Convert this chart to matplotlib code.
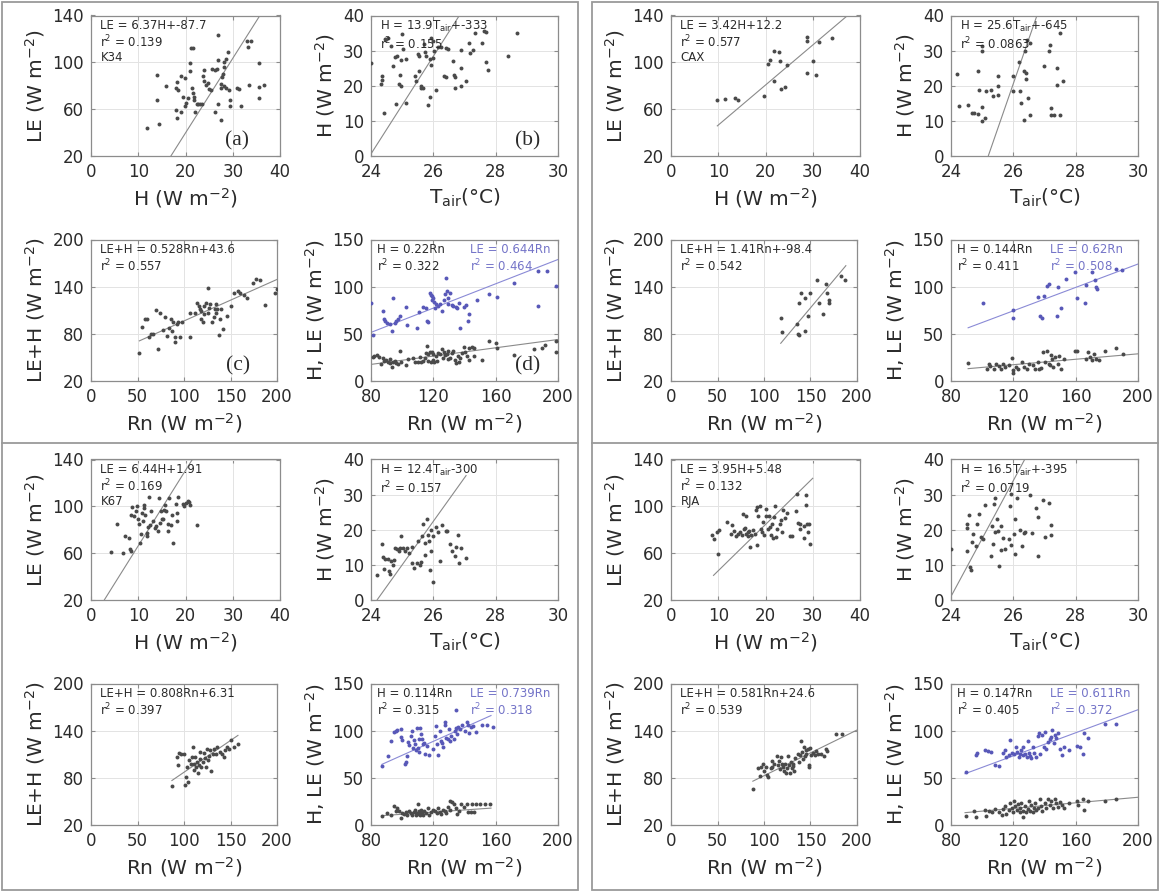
import matplotlib
matplotlib.use("Agg")
import matplotlib.pyplot as plt
from matplotlib.patches import Rectangle
import numpy as np

# ---- data: (x, y) pairs per panel ----
# K34 (top left)
k34_a = np.array([(11.8,44.1),(14.3,47.2),(13.9,67.7),(13.9,88.9),(15.9,79.6),(18.2,83.3),(17.9,78.4),
    (18.5,76.7),(19.1,88.1),(19.8,86.7),(17.9,59.1),(18.2,52.6),(19.1,57.7),(19.8,62.6),(20.2,65.4),
    (19.5,70.5),(20.6,69.6),(21.0,92.3),(21.0,99.7),(21.1,112.2),(21.6,112.2),(21.4,78.4),(21.6,73.9),
    (21.8,70.5),(21.9,67.7),(22.1,57.2),(22.4,64.0),(22.7,64.3),(23.1,64.0),(23.5,64.0),(23.7,88.1),
    (24.0,93.2),(24.0,83.8),(24.4,80.4),(24.8,82.4),(25.0,77.6),(25.4,76.2),(25.6,94.0),(26.2,93.8),
    (26.7,94.0),(26.3,57.2),(26.9,123.5),(26.9,102.3),(26.9,64.8),(27.5,50.6),(27.5,81.8),(27.5,78.4),
    (27.7,87.5),(28.0,90.4),(28.2,96.0),(28.2,100.3),(28.2,79.6),(28.5,78.2),(28.6,103.1),(29.0,108.8),
    (29.2,76.2),(29.4,67.7),(29.5,62.6),(30.9,78.2),(31.3,77.6),(31.7,62.6),(33.1,117.9),(33.2,113.0),
    (33.8,117.9),(33.4,80.4),(35.5,99.4),(35.6,79.0),(35.6,69.9),(36.6,80.4)])
k34_b = np.array([(24.0,26.5),(24.36,22.7),(24.36,21.7),(24.32,20.4),(24.41,12.3),(24.44,33.4),(24.54,33.5),
    (24.63,31.3),(24.71,25.5),(24.77,28.1),(24.84,28.6),(24.8,14.7),(24.89,20.4),(24.92,23.1),(24.95,20.0),
    (24.95,27.2),(25.0,34.7),(25.04,30.4),(25.11,27.7),(25.11,15.1),(25.41,22.7),(25.45,21.4),(25.51,28.9),
    (25.54,28.4),(25.6,19.3),(25.62,19.8),(25.66,19.3),(25.54,24.3),(25.71,32.0),(25.73,29.6),(25.76,28.4),
    (25.82,14.5),(25.89,16.9),(25.9,27.5),(25.92,26.0),(25.92,33.7),(25.98,32.8),(26.0,28.0),(26.09,18.8),
    (26.03,29.9),(26.14,31.0),(26.25,31.0),(26.33,22.7),(26.41,22.4),(26.41,30.8),(26.46,30.4),(26.62,27.0),
    (26.65,23.1),(26.68,22.4),(26.7,19.3),(26.9,30.1),(26.9,25.1),(26.9,19.8),(27.06,21.4),(27.14,32.3),
    (27.17,29.4),(27.27,30.1),(27.35,34.9),(27.56,32.3),(27.62,35.7),(27.68,35.4),(27.68,26.8),(27.75,24.6),
    (28.39,28.4),(28.7,35.0)])
k34_c = np.array([(52,55.6),(55.2,89.1),(58,98.7),(60,98.7),(62,76.5),(64,79.9),(67.2,79.9),(70,110),
    (72,61),(74,107),(77.2,85.3),(79.2,100.8),(81.2,77.8),(84,87),(86,98.7),(86.8,84),(88,94.5),(90,75.7),
    (90,70.2),(92,92.4),(93.2,94.5),(96,75.7),(98,94.5),(106,107.1),(106.8,75.7),(112,106.2),(114,119.6),
    (116,115.4),(116.8,112.1),(118,109.2),(118,98.7),(120,94.5),(121.2,105),(122,115.4),(124,119.6),
    (126,138.5),(126,107.1),(126.8,113.3),(128,117.5),(130,94.5),(132,100.8),(132.8,111.3),(134,117.5),
    (134.8,107.1),(136,111.3),(138,79),(138.8,98.7),(140,111.3),(142,86.1),(146,102.9),(150,115.4),
    (154,132.2),(158,134.3),(160,132.2),(164,128.8),(168,125.9),(174,144.7),(177.2,150.2),(182,148.9),
    (186.8,116.3),(198,132.2),(200,137.6)])
k34_d_H = np.array([(81.1,25.9),(82.2,27),(83.9,27.7),(85.4,25.9),(86.5,17.7),(87.6,24.1),(88.6,21.3),
    (89.7,22.3),(90.8,20.6),(91.9,23),(92.5,18.8),(93.4,15.2),(94.1,19.9),(95.1,21.3),(96.2,18.8),
    (97.3,17.7),(98.4,31.9),(99.5,19.9),(102.7,17),(103.8,23.4),(107,24.8),(108.1,20.6),(110.3,20.6),
    (111.4,25.9),(112.4,19.9),(113.5,21.3),(114.6,24.8),(115.2,29.4),(115.7,37.2),(116.3,21.3),(116.8,28.4),
    (117.8,30.5),(118.5,20.6),(118.9,30.5),(119.6,22.3),(120,28.4),(120.6,19.9),(121.5,27),(122.2,21.3),
    (123.2,29.4),(124.3,28.4),(125.4,34),(126.1,24.8),(127.1,30.5),(127.6,27.7),(128.6,28.4),(129.3,23.4),
    (129.7,31.9),(130.8,24.8),(131.9,29.4),(132.9,31.9),(134.1,22.3),(134.5,18.8),(135.8,27),(136.2,19.9),
    (137.3,24.8),(138.4,29.4),(139.5,36.5),(140.5,31.2),(141.6,27),(142.7,35.5),(143.1,22.3),(144.9,36.5),
    (146,27),(146,34.8),(151.4,22.3),(155.7,42.6),(160,40.1),(161.1,35.5),(171.7,27.2),(184.8,34.2),
    (189.5,34.9),(191.9,37.7),(199,30.7),(199,42.2)])
k34_d_LE = np.array([(80,82.6),(81.1,48.9),(87.6,74.5),(88.2,66),(89.1,63.1),(90.4,61.3),(91.9,60.3),
    (93.4,53.2),(94.1,87.9),(95.1,61.3),(96.2,63.8),(97.3,66),(98.4,68.4),(102.7,78),(103.4,59.6),
    (109.2,56),(110.7,72.7),(113.5,78),(115,77.3),(115.7,63.8),(116.8,62.4),(117.8,93.3),(118.5,91.5),
    (118.9,89.7),(119.4,86.2),(120,87.9),(120.6,83.7),(121.5,81.6),(121.1,77.3),(122.8,79.1),(124.3,81.6),
    (125.4,73.8),(127.1,86.2),(127.6,92.2),(128.1,109.2),(128.6,95),(129.3,87.9),(129.7,81.6),(130.8,93.3),
    (131.9,80.1),(132.9,79.1),(134.5,78),(135.1,77.3),(136.2,82.6),(137.3,56),(139.5,78),(141,80.1),
    (142.5,63.8),(143.1,70.9),(148.1,86.2),(155.7,92.2),(161.1,88.7),(171.7,103.9),(187,116.1),
    (193,116.1),(187.1,79.5),(199,101.1)])

# CAX (top right)
cax_a = np.array([(9.8,68.2),(11.5,69.1),(13.5,69.6),(14.1,67.7),(19.6,71.6),(20.5,98.6),(21,102.3),
    (21.8,109.9),(21.9,83.8),(22.9,108.8),(23.1,101.4),(23.2,77.6),(24.2,78.7),(24.6,98),(28.8,121.3),
    (28.8,117.9),(28.8,90.9),(30,101.4),(30.6,88.9),(31.3,117.3),(34,120.7)])
cax_b = np.array([(24.2,23.4),(24.26,14.2),(24.56,14.5),(24.68,12.3),(24.74,12.3),(24.86,12),(24.86,24.1),
    (24.9,18.9),(25.0,31.2),(25.0,29.8),(25.0,13.9),(25.0,10.1),(25.1,10.9),(25.12,18.4),(25.28,18.9),
    (25.34,17),(25.5,20),(25.52,22.7),(25.52,17.5),(26.0,18.4),(26.0,22.7),(26.17,26.7),(26.2,18.4),
    (26.23,15.1),(26.35,24.1),(26.35,10.2),(26.38,29.8),(26.4,23.6),(26.4,22),(26.45,33.1),(26.46,16.5),
    (26.55,32.2),(26.53,11.8),(26.98,25.5),(27.16,29.8),(27.19,31.7),(27.2,13.7),(27.2,11.8),(27.3,11.8),
    (27.4,25.1),(27.5,35),(27.6,21.3),(27.5,11.8),(27.4,20.3)])
cax_c = np.array([(117.9,100.2),(119,82.3),(136,91.9),(136.9,79.4),(137.7,78.2),(137.7,118.9),
    (139.7,131.4),(144.4,125.2),(149.6,131.4),(144.4,83.6),(147.6,102.3),(157.5,148),(159.5,118.9),
    (163.5,105.6),(166.7,143.9),(167.5,131.4),(169.4,123.1),(169.4,118.9),(183.3,154.2),(187.3,148)])
cax_d_H = np.array([(90.7,19.4),(103,13.2),(104.1,18.4),(105.3,15.9),(107.7,13.2),(108.9,18.4),(110.5,15.9),
    (112.4,13.2),(113.6,18.4),(114.8,14.9),(117.2,17.3),(119.1,24.2),(119.5,11.4),(120,9),(121.4,14.9),
    (123.1,13.2),(125.4,20.1),(126.6,14.9),(129,13.2),(130.2,18.4),(132.5,17.3),(134.2,13.2),(135.6,20.1),
    (136.6,12.5),(138,13.9),(138.9,31.2),(140.4,20.1),(141.3,32.2),(142.7,18.4),(143.7,16.6),(144.4,27.7),
    (145.1,23.6),(145.6,14.9),(146.7,25.3),(148.4,18.4),(149.1,26.3),(150.3,13.2),(152.7,23.6),(159.8,32.2),
    (161,32.2),(166.4,23.6),(168,30.5),(169.2,25.3),(170.4,22.5),(171.6,28.7),(172.8,22.9),(175.1,21.8),
    (178.7,32.2),(185.8,34.6),(190.5,28.7)])
cax_d_LE = np.array([(100.6,83.1),(119.5,74.8),(120,66.9),(136.1,88.7),(137.3,68.6),(138.5,66.9),
    (139.6,90.1),(141.3,100.5),(142.7,103.2),(147.9,68.6),(148.6,99.8),(150.3,77.2),(153.8,108.4),
    (159.8,115.3),(161,87.6),(165.7,82.4),(166.9,101.5),(170.4,115.3),(172.1,106.7),(172.8,99.8),
    (174,97),(185.8,118.8),(190,117.8)])

# K67 (bottom left)
k67_a = np.array([(4.2,61.4),(5.4,85.1),(6.8,60),(7.2,74.3),(8.1,73.1),(8.2,63.7),(8.5,62),(8.5,92.9),
    (8.7,99.1),(9,91.4),(9.5,95.7),(9.8,100),(10,89.4),(10.2,84.9),(10.4,68.6),(10.5,76.6),(10.8,94.3),
    (11,87.7),(11.2,98.6),(11.3,101.4),(11.5,92.9),(11.8,77.1),(11.9,74.3),(12.1,82),(12.3,108),(12.5,84.3),
    (12.7,95.7),(13.1,87.7),(13.5,81.4),(13.8,82.9),(14.2,79.1),(14.4,107.1),(14.6,85.7),(14.8,95.7),
    (15,89.4),(15.2,89.4),(15.4,97.1),(15.6,101.4),(15.8,95.7),(16.2,84.9),(16.4,79.1),(16.5,107.1),
    (16.9,84.3),(17.2,92.9),(17.3,68.6),(17.9,102),(18.1,87.7),(18.2,94.3),(18.5,108),(19.5,101.7),
    (19.6,100),(20,102.9),(20.5,104.9),(20.8,103.7),(21,100.9),(22.5,84.3)])
k67_b = np.array([(24.18,7),(24.36,15.9),(24.38,12.1),(24.41,8.9),(24.44,11.6),(24.53,11.6),(24.58,8.3),
    (24.62,7.3),(24.64,11),(24.7,10),(24.73,11.4),(24.77,14.8),(24.82,14.6),(24.89,14),(24.93,14.8),
    (24.97,18.1),(25.03,14.8),(25.09,14),(25.15,14.8),(25.21,13.3),(25.33,15.2),(25.33,10.5),(25.38,9.2),
    (25.48,10.5),(25.5,16.7),(25.56,10),(25.62,10.8),(25.64,18.1),(25.67,21.6),(25.72,12.9),(25.74,16.2),
    (25.8,23.1),(25.82,18.6),(25.86,16.7),(25.88,8.6),(25.92,14),(25.92,20),(25.98,18.1),(26.0,5.2),
    (26.07,20.7),(26.15,19.5),(26.21,11),(26.27,21.4),(26.4,19.6),(26.45,19.6),(26.55,15.9),(26.6,14),
    (26.7,12.4),(26.72,15.2),(26.8,18.4),(26.82,10.5),(26.9,14.8),(27.05,11.9)])
k67_c = np.array([(87.1,69.9),(92.3,106.5),(93.1,96.1),(95,111.4),(97,110.6),(100.2,109.8),(101,71.1),
    (101.8,81.5),(103,94),(104.2,75.3),(105,103.1),(107,98.1),(108.1,106.5),(109.7,119.8),(110.9,98.1),
    (110.9,89.8),(112.1,106.5),(112.9,94),(113.7,100.2),(114.9,86.5),(116,96.1),(116.8,104.4),(117.6,112.7),
    (118.8,94),(120,100.2),(121.6,111.4),(122.8,105.6),(124,94),(124.8,116.8),(125.5,102.3),(126.7,107.3),
    (127.9,114.8),(128.7,89),(130.7,109.8),(132.7,116.8),(134.7,110.6),(135.8,118.9),(138.6,112.7),
    (140.6,109.8),(142.6,106.5),(144.6,114.8),(146.5,119.8),(148.5,116.8),(150.5,128.1),(153.3,119.8),
    (158.4,123.1)])
k67_d_H = np.array([(87.1,9.1),(90.4,12.7),(92.6,10.2),(94.7,20),(95.8,15.3),(96.9,17.5),(98,14.6),
    (99,7.3),(100.1,12.7),(101.2,11.6),(102.3,13.8),(103.4,10.9),(104.5,15.3),(105.5,12.7),(106.6,10.9),
    (107.7,13.8),(108.4,16.4),(108.8,10.2),(109.2,12.7),(109.9,21.8),(110.5,11.6),(111,14.6),(111.4,10.2),
    (112,16.4),(112.6,12.7),(113.1,10.2),(114.2,15.3),(115.3,12.7),(116.4,17.5),(117.4,10.9),(118.5,13.8),
    (120,16.4),(121.3,15.3),(122.2,12.7),(122.9,17.5),(124,13.8),(125,11.6),(126.1,16.4),(127.2,15.3),
    (128.3,12.7),(129.4,18.9),(130.4,16.4),(130.9,25.5),(132.2,24.8),(133,21.8),(134.3,18.2),(135.2,11.6),
    (136.5,15.3),(138,21.8),(139.5,18.9),(141.3,21.8),(142.3,13.5),(143.9,13.5),(144.5,22.6),(146,13.5),
    (147.7,22.6),(149.9,21.8),(153.2,22.6),(156.4,22.6)])
k67_d_LE = np.array([(87.1,62.6),(92.6,89.2),(91,72.8),(94.7,99),(96.9,101.2),(99,101.9),(95.8,100.1),
    (99,92.8),(100.1,90.3),(101.9,64.8),(102.7,67.3),(103.4,72.8),(104,88.1),(104.5,84.5),(105.5,94.6),
    (106.6,100.1),(107.1,81.9),(107.7,90.3),(108.4,85.5),(108.8,79.4),(109.2,102.7),(109.9,81.9),
    (110.5,77.2),(111,91),(111.4,102.7),(112,96.5),(112.7,91),(113.1,85.5),(113.8,87.4),(114.8,75.7),
    (115.7,83.7),(117,74.6),(120,80.8),(121.3,94.6),(121.8,104.8),(122.2,85.5),(122.9,74.6),(124,100.1),
    (125,89.2),(125.7,86.6),(126.5,83),(127.2,109.2),(127.8,105.6),(128.3,91.7),(129.4,91),(130,101.9),
    (130.9,89.2),(131.5,94.6),(133,91),(133.7,100.1),(134.3,102.7),(134.8,122),(135.2,96.5),(135.8,103.7),
    (137.4,101.9),(138.7,106.3),(140.2,100.1),(141.3,109.2),(142.3,106.3),(143,97.6),(143.9,103.7),
    (145.6,104.8),(147.7,98.3),(151,106.3),(154.2,105.6),(158.1,103.7)])

# RJA (bottom right)
rja_a = np.array([(8.7,75.6),(9.2,71.9),(9.8,78.4),(10,59.1),(10.2,79.6),(11.9,87),(12.7,76.2),(12.9,84.1),
    (13.3,79),(13.8,74.8),(14.2,76.7),(14.6,78.4),(15,75.6),(15.2,93.2),(15.4,80.4),(15.6,81.3),(15.8,76.7),
    (15.9,91.8),(16.2,78.4),(16.4,74.8),(16.5,79),(16.7,65.4),(16.9,75.6),(17.3,79.6),(17.7,76.7),(17.9,96.6),
    (18.1,99.4),(18.2,67.1),(18.5,91.8),(18.8,100.3),(19,80.4),(19.2,78.4),(19.5,87),(19.6,75.6),(20,91.8),
    (20.2,97.4),(20.5,80.4),(20.8,91.8),(21,82.4),(21.2,75.6),(21.3,85.2),(21.5,73.3),(21.8,90.9),
    (22.1,100.3),(22.3,73.9),(22.5,80.4),(23.1,85.2),(23.3,88.1),(23.5,78.4),(23.8,96.6),(24.2,90.4),
    (24.6,94.6),(25.2,74.8),(25.6,74.8),(26.5,96),(26.7,110.8),(26.9,86.1),(27.2,84.7),(27.3,80.4),
    (28.1,73.3),(28.2,83.3),(28.5,101.1),(28.5,109.6),(28.7,84.7),(29,78.4),(29.2,85.2),(29.5,68.2)])
rja_b = np.array([(24,14.5),(24.5,21.6),(24.5,20.6),(24.52,14),(24.59,24.2),(24.62,9.5),(24.64,8.5),
    (24.67,16.4),(24.71,18.7),(24.79,15.4),(24.85,21.7),(24.91,24.6),(24.95,17.8),(25.03,17.3),(25.09,27),
    (25.27,12.6),(25.3,21.1),(25.35,15.9),(25.38,27.4),(25.42,28.9),(25.42,19.5),(25.47,23),(25.5,19.7),
    (25.54,9.7),(25.59,14.2),(25.62,21.1),(25.66,17.6),(25.74,14.5),(25.86,17.3),(25.89,26.8),(25.92,30.3),
    (25.94,15.7),(26.01,18.9),(26.04,23),(26.06,13.2),(26.13,28.9),(26.21,19.9),(26.27,15.4),(26.33,19.2),
    (26.39,19.5),(26.53,29.9),(26.6,19.2),(26.72,26.3),(26.8,23.5),(26.8,12.6),(26.95,28.4),(27.0,18.0),
    (27.15,27.6),(27.2,21.4),(27.2,18.6)])
rja_c = np.array([(88.1,65.7),(94,91.9),(95.2,82.3),(96.8,94.1),(99.2,97.3),(100,89),(102,94.1),(103.2,83.6),
    (104.8,81.5),(107.1,91.9),(108.7,94.1),(108.7,101.5),(111.1,98.1),(113.9,107.3),(115.1,96.1),
    (115.9,101.5),(116.7,90.7),(117.9,106.5),(119,98.1),(120.6,94.1),(121.8,89),(123,98.1),(123.8,85.7),
    (124.6,91.9),(125.8,107.3),(127,96.1),(127.8,86.5),(128.6,100.2),(129.8,91.9),(131,98.1),(131.7,94.8),
    (132.5,89),(133.7,105.6),(136.9,109.8),(137.7,100.2),(138.9,108.5),(140.1,126.4),(140.9,112.7),
    (141.7,104.4),(142.9,118.9),(144,107.3),(144.8,114.8),(145.6,110.6),(146.8,116.8),(148,96.1),(148.8,94),
    (149.6,118),(150.8,108.5),(152.8,111.4),(154.8,108.5),(156.3,113.9),(158.3,109.8),(161.1,110.6),
    (164.3,107.3),(166.3,116.8),(167.5,113.9),(177.4,135.5),(184.1,135.5)])
rja_d_H = np.array([(89.5,9.8),(95,15),(95.9,8),(102.1,16),(102.6,9.8),(104.5,15),(106.1,13.3),(108.5,16.7),
    (110.9,14),(112.6,10.5),(113.3,16.7),(114.5,20.2),(115.6,11.5),(117.3,16),(118,23),(119.2,18.5),
    (119.7,13.3),(120.4,25.5),(121.1,20.2),(122.1,16),(122.8,21.9),(124,13.3),(124.4,18.5),(125.2,23.7),
    (125.9,15),(126.3,8),(127.5,20.2),(128.2,13.3),(129.2,17.4),(129.9,25.5),(130.6,15),(131.6,20.9),
    (132.3,13.3),(133,18.5),(133.9,23.7),(134.7,16),(135.8,18.5),(137,27.9),(137.7,20.2),(138.7,15),
    (140.1,23),(141.1,18.5),(142.5,27.2),(143.5,20.9),(144.2,25.5),(145.3,18.5),(146.5,27.2),(147.7,23),
    (148.9,19.5),(150.1,24.4),(151.3,20.9),(152.5,18.5),(156,23),(160.8,25.5),(161.5,20.9),(164.8,27.2),
    (165.6,16),(168,25.5),(178.6,25.5),(185.7,27.2)])
rja_d_LE = np.array([(89.5,55.8),(95.9,74.3),(96.6,76.7),(102.1,79.5),(103.8,78.8),(105.4,77.8),
    (108.5,63.8),(110.9,62.8),(113.3,76),(114.5,79.5),(115.6,72.5),(117.3,74.3),(118,90),(119.2,76.7),
    (120.4,75.3),(121.6,83),(122.1,77.8),(123.5,72.5),(124,75.3),(125.2,79.5),(125.9,74.3),(126.3,83),
    (127.5,75.3),(128.7,71.9),(129.2,89.3),(129.9,76.7),(130.6,73.2),(131.6,70.8),(132.3,83),(133,76.7),
    (134.7,72.5),(135.8,94.2),(136.3,97.7),(137,75.3),(138.2,95.3),(139.4,83),(140.1,98.7),(141.1,80.2),
    (142.5,88.2),(143.5,90.7),(144.2,93.5),(144.9,101.2),(145.8,87.2),(146.5,95.3),(147.7,91.7),
    (148.9,97.7),(150.1,80.2),(151.3,74.3),(152.5,83),(156,79.5),(160.8,83.7),(162.5,83),(164.8,75.3),
    (165.6,97),(168,91.7),(178.6,107.4),(185.7,107.4)])

# fit coefficients (slope, intercept) and the x span each fit line covers
fits = {
    'K34': [(6.37, -87.7, 11.8, 36.6), (13.9, -333, 24.0, 28.7), (0.528, 43.6, 52, 200), (0.22, 0.644, 80, 200)],
    'CAX': [(3.42, 12.2, 9.8, 40), (25.6, -645, 24.2, 27.6), (1.41, -98.4, 118, 188), (0.144, 0.62, 91, 200)],
    'K67': [(6.44, 1.91, 2.8, 23), (12.4, -300, 24.2, 27.05), (0.808, 6.31, 87, 158), (0.114, 0.739, 87, 157)],
    'RJA': [(3.95, 5.48, 9, 30), (16.5, -395, 24.0, 28), (0.581, 24.6, 88, 200), (0.147, 0.611, 89, 200)],
}
labels = {
    'K34': [['LE = 6.37H+-87.7', 'r$^2$ = 0.139', 'K34'], ['H = 13.9T$_{\\mathrm{air}}$+-333', 'r$^2$ = 0.155'],
            ['LE+H = 0.528Rn+43.6', 'r$^2$ = 0.557'], ['H = 0.22Rn', 'r$^2$ = 0.322', 'LE = 0.644Rn', 'r$^2$ = 0.464']],
    'CAX': [['LE = 3.42H+12.2', 'r$^2$ = 0.577', 'CAX'], ['H = 25.6T$_{\\mathrm{air}}$+-645', 'r$^2$ = 0.0863'],
            ['LE+H = 1.41Rn+-98.4', 'r$^2$ = 0.542'], ['H = 0.144Rn', 'r$^2$ = 0.411', 'LE = 0.62Rn', 'r$^2$ = 0.508']],
    'K67': [['LE = 6.44H+1.91', 'r$^2$ = 0.169', 'K67'], ['H = 12.4T$_{\\mathrm{air}}$-300', 'r$^2$ = 0.157'],
            ['LE+H = 0.808Rn+6.31', 'r$^2$ = 0.397'], ['H = 0.114Rn', 'r$^2$ = 0.315', 'LE = 0.739Rn', 'r$^2$ = 0.318']],
    'RJA': [['LE = 3.95H+5.48', 'r$^2$ = 0.132', 'RJA'], ['H = 16.5T$_{\\mathrm{air}}$+-395', 'r$^2$ = 0.0719'],
            ['LE+H = 0.581Rn+24.6', 'r$^2$ = 0.539'], ['H = 0.147Rn', 'r$^2$ = 0.405', 'LE = 0.611Rn', 'r$^2$ = 0.372']],
}
sites = {'K34': (k34_a, k34_b, k34_c, k34_d_H, k34_d_LE),
         'CAX': (cax_a, cax_b, cax_c, cax_d_H, cax_d_LE),
         'K67': (k67_a, k67_b, k67_c, k67_d_H, k67_d_LE),
         'RJA': (rja_a, rja_b, rja_c, rja_d_H, rja_d_LE)}

# ---- drawing ----
W, HP = 1160, 892
GREY = '#4a4a4a'
BLUE = '#5858b8'
BLUE_TXT = '#7474c8'
LINE = '#8a8a8a'
TXT = '#2b2b2b'

fig = plt.figure(figsize=(W / 100, HP / 100), dpi=100)

bg = fig.add_axes([0, 0, 1, 1])
bg.set_xlim(0, W)
bg.set_ylim(HP, 0)
bg.axis('off')
for x0, x1 in [(2, 578), (592, 1158)]:
    bg.add_patch(Rectangle((x0, 2), x1 - x0, 888, fill=False, ec='#9a9a9a', lw=1.3))
    bg.plot([x0, x1], [443, 443], color='#9a9a9a', lw=1.3)

boxes = [(91, 15.5, 280, 156), (371, 15.5, 558, 156), (91, 239.5, 277, 381), (371, 239.5, 558, 381)]
offsets = {'K34': (0, 0), 'CAX': (580, 0), 'K67': (0, 444), 'RJA': (580, 444)}
wm = 'W m$^{-2}$'
specs = [((0, 40), (20, 140), [0, 10, 20, 30, 40], [20, 60, 100, 140], 'H (%s)' % wm, 'LE (%s)' % wm),
         ((24, 30), (0, 40), [24, 26, 28, 30], [0, 10, 20, 30, 40], 'T$_{\\mathrm{air}}$(°C)', 'H (%s)' % wm),
         ((0, 200), (20, 200), [0, 50, 100, 150, 200], [20, 80, 140, 200], 'Rn (%s)' % wm, 'LE+H (%s)' % wm),
         ((80, 200), (0, 150), [80, 120, 160, 200], [0, 50, 100, 150], 'Rn (%s)' % wm, 'H, LE (%s)' % wm)]


def make_ax(box, dx, dy, spec):
    l, t, r, b = box
    ax = fig.add_axes([(l + dx) / W, 1 - (b + dy) / HP, (r - l) / W, (b - t) / HP])
    xlim, ylim, xt, yt, xl, yl = spec
    ax.set_xlim(xlim)
    ax.set_ylim(ylim)
    ax.set_xticks(xt)
    ax.set_yticks(yt)
    ax.grid(True, color='#e3e3e3', lw=0.7)
    ax.set_axisbelow(True)
    for s in ax.spines.values():
        s.set_color('#8c8c8c')
        s.set_linewidth(0.9)
    ax.tick_params(direction='in', length=3, color='#8c8c8c', labelsize=12,
                   labelcolor=TXT, pad=5, top=True, right=True)
    ax.set_xlabel(xl, fontsize=14.5, color=TXT, labelpad=4)
    ax.set_ylabel(yl, fontsize=14.5, color=TXT, labelpad=4)
    return ax


for site, (dx, dy) in offsets.items():
    pa, pb, pc, pdh, pdl = sites[site]
    f = fits[site]
    txt = labels[site]
    axes = [make_ax(boxes[i], dx, dy, specs[i]) for i in range(4)]

    for ax, pts, (m, c, x0, x1), lines in zip(axes[:3], (pa, pb, pc), f[:3], txt[:3]):
        ax.scatter(pts[:, 0], pts[:, 1], s=8, color=GREY, lw=0, zorder=3)
        xs = np.array([x0, x1])
        ax.plot(xs, m * xs + c, color=LINE, lw=0.8, zorder=2)
        ax.text(0.05, 0.975, '\n'.join(lines), transform=ax.transAxes, ha='left', va='top',
                fontsize=8.5, color=TXT, linespacing=1.1, zorder=4)

    ax = axes[3]
    mh, ml, x0, x1 = f[3]
    xs = np.array([x0, x1])
    ax.scatter(pdh[:, 0], pdh[:, 1], s=8, color=GREY, lw=0, zorder=3)
    ax.scatter(pdl[:, 0], pdl[:, 1], s=8, color=BLUE, lw=0, zorder=3)
    ax.plot(xs, mh * xs, color=LINE, lw=0.8, zorder=2)
    ax.plot(xs, ml * xs, color='#8a8ad6', lw=0.8, zorder=2)
    ax.text(0.03, 0.975, txt[3][0] + '\n' + txt[3][1], transform=ax.transAxes, ha='left', va='top',
            fontsize=8.5, color=TXT, linespacing=1.1, zorder=4)
    ax.text(0.53, 0.975, txt[3][2] + '\n' + txt[3][3], transform=ax.transAxes, ha='left', va='top',
            fontsize=8.5, color=BLUE_TXT, linespacing=1.1, zorder=4)

    if site == 'K34':
        for ax, letter, xf in zip(axes, ['(a)', '(b)', '(c)', '(d)'], [0.77, 0.84, 0.79, 0.84]):
            ax.text(xf, 0.11, letter, transform=ax.transAxes, ha='center', va='center',
                    fontsize=15.5, family='Liberation Serif', color=TXT, zorder=4)

fig.savefig('out.png', dpi=100)
